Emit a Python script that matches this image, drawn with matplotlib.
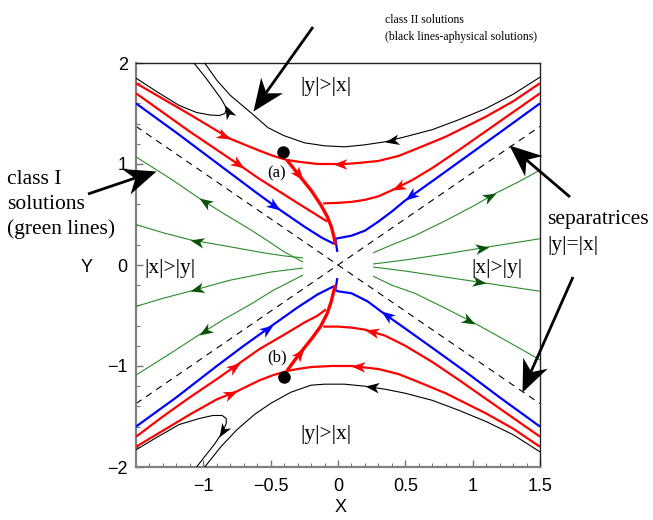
import numpy as np
import matplotlib
matplotlib.use('Agg')
import matplotlib.pyplot as plt
from matplotlib.path import Path
from matplotlib.markers import MarkerStyle
from matplotlib.transforms import Affine2D

# ---------------- data ----------------
x_ticks = [-1, -0.5, 0, 0.5, 1, 1.5]
x_tick_labels = ['\u22121', '\u22120.5', '0', '0.5', '1', '1.5']
y_ticks = [-2, -1, 0, 1, 2]
y_tick_labels = ['\u22122', '\u22121', '0', '1', '2']

sep_slope = 0.915
sep_x = [-1.5, 1.5]

# class II (black)
hookU_x = [-1.50, -1.35, -1.18, -1.05, -0.95, -0.88, -0.84, -0.83, -0.84, -0.87, -0.92, -0.98, -1.07]
hookU_y = [1.85, 1.72, 1.58, 1.51, 1.485, 1.48, 1.50, 1.54, 1.58, 1.65, 1.74, 1.85, 2.00]
hypU_x = [1.50, 1.30, 1.10, 0.90, 0.70, 0.50, 0.35, 0.20, 0.05, -0.10, -0.25, -0.40, -0.52, -0.64, -0.80, -0.90, -0.99]
hypU_y = [1.86, 1.69, 1.55, 1.44, 1.34, 1.27, 1.22, 1.19, 1.17, 1.18, 1.21, 1.28, 1.36, 1.50, 1.68, 1.83, 2.00]
hookL_x = [-1.50, -1.35, -1.18, -1.03, -0.93, -0.86, -0.83, -0.83, -0.85, -0.88, -0.92, -0.98, -1.05]
hookL_y = [-1.83, -1.71, -1.58, -1.52, -1.49, -1.49, -1.52, -1.57, -1.63, -1.70, -1.78, -1.88, -2.00]
hypL_x = [1.50, 1.30, 1.10, 0.90, 0.70, 0.50, 0.35, 0.20, 0.05, -0.10, -0.20, -0.35, -0.50, -0.62, -0.75, -0.87, -0.99]
hypL_y = [-1.85, -1.68, -1.55, -1.44, -1.34, -1.27, -1.23, -1.20, -1.18, -1.18, -1.19, -1.26, -1.37, -1.48, -1.63, -1.80, -2.00]

# red
rU1L_x = [-1.50, -1.30, -1.10, -0.90, -0.80, -0.70, -0.58, -0.48, -0.38]
rU1L_y = [1.80, 1.645, 1.49, 1.33, 1.25, 1.195, 1.13, 1.08, 1.04]
rU1R_x = [1.50, 1.30, 1.10, 0.95, 0.80, 0.60, 0.45, 0.30, 0.15, 0.05, -0.04, -0.15, -0.28, -0.38]
rU1R_y = [1.80, 1.62, 1.47, 1.37, 1.27, 1.16, 1.08, 1.03, 1.01, 1.00, 1.00, 1.00, 1.02, 1.04]
rU2L_x = [-1.50, -1.30, -1.10, -0.90, -0.70, -0.58, -0.45, -0.32, -0.20, -0.08]
rU2L_y = [1.70, 1.51, 1.32, 1.14, 0.96, 0.85, 0.74, 0.63, 0.53, 0.43]
rU2R_x = [1.50, 1.20, 0.90, 0.70, 0.55, 0.40, 0.30, 0.20, 0.10, 0.00, -0.11]
rU2R_y = [1.70, 1.42, 1.14, 0.96, 0.84, 0.74, 0.68, 0.645, 0.625, 0.615, 0.61]
trU_x = [-0.38, -0.32, -0.26, -0.20, -0.13, -0.08, -0.05, -0.03, -0.02]
trU_y = [1.04, 0.94, 0.84, 0.74, 0.60, 0.48, 0.38, 0.28, 0.20]

rL1L_x = [-1.50, -1.30, -1.10, -0.90, -0.73, -0.58, -0.40, -0.25, -0.15, -0.09]
rL1L_y = [-1.70, -1.50, -1.31, -1.13, -0.97, -0.83, -0.69, -0.57, -0.50, -0.44]
rL1R_x = [1.50, 1.20, 0.90, 0.70, 0.50, 0.35, 0.20, 0.10, 0.00, -0.11]
rL1R_y = [-1.70, -1.42, -1.14, -0.96, -0.80, -0.70, -0.64, -0.62, -0.61, -0.61]
rL2L_x = [-1.50, -1.30, -1.10, -0.90, -0.75, -0.58, -0.48, -0.38]
rL2L_y = [-1.80, -1.64, -1.48, -1.33, -1.25, -1.14, -1.09, -1.05]
rL2R_x = [1.50, 1.30, 1.10, 0.95, 0.80, 0.60, 0.45, 0.30, 0.10, -0.05, -0.20, -0.30, -0.38]
rL2R_y = [-1.80, -1.62, -1.47, -1.37, -1.27, -1.16, -1.08, -1.03, -1.00, -1.00, -1.01, -1.03, -1.05]
trL_x = [-0.38, -0.32, -0.25, -0.19, -0.13, -0.08, -0.05, -0.03, -0.02]
trL_y = [-1.05, -0.94, -0.82, -0.72, -0.61, -0.48, -0.36, -0.25, -0.20]

# blue
bUL_x = [-1.50, -1.20, -0.90, -0.60, -0.43, -0.25, -0.12, -0.03]
bUL_y = [1.60, 1.31, 1.01, 0.71, 0.545, 0.38, 0.27, 0.21]
bUR_x = [1.50, 1.20, 0.95, 0.70, 0.50, 0.40, 0.30, 0.20, 0.10, 0.00, -0.02]
bUR_y = [1.60, 1.31, 1.07, 0.83, 0.64, 0.53, 0.43, 0.34, 0.29, 0.265, 0.26]
bUS_x = [-0.02, -0.005]
bUS_y = [0.26, 0.13]
bLL_x = [-1.50, -1.20, -0.90, -0.70, -0.48, -0.30, -0.15, -0.03]
bLL_y = [-1.60, -1.31, -1.00, -0.80, -0.59, -0.42, -0.29, -0.21]
bLR_x = [1.50, 1.20, 0.95, 0.70, 0.50, 0.32, 0.22, 0.10, 0.00, -0.02]
bLR_y = [-1.60, -1.31, -1.06, -0.82, -0.63, -0.46, -0.36, -0.28, -0.26, -0.25]
bLS_x = [-0.02, -0.005]
bLS_y = [-0.25, -0.13]

# green (class I)
g1L_x = [-0.26, -0.40, -0.50, -0.65, -0.85, -1.03, -1.25, -1.50]
g1L_y = [0.03, 0.13, 0.22, 0.35, 0.51, 0.66, 0.86, 1.07]
g2L_x = [-0.26, -0.40, -0.55, -0.80, -1.10, -1.30, -1.50]
g2L_y = [0.07, 0.09, 0.12, 0.18, 0.25, 0.32, 0.40]
g3L_x = [-0.26, -0.50, -0.80, -1.10, -1.30, -1.50]
g3L_y = [-0.03, -0.07, -0.15, -0.26, -0.33, -0.41]
g4L_x = [-0.26, -0.48, -0.65, -0.85, -1.03, -1.25, -1.50]
g4L_y = [-0.10, -0.25, -0.39, -0.54, -0.69, -0.88, -1.09]
g1R_x = [0.26, 0.40, 0.57, 0.80, 1.00, 1.17, 1.35, 1.50]
g1R_y = [0.12, 0.20, 0.29, 0.44, 0.58, 0.71, 0.83, 0.94]
g2R_x = [0.26, 0.50, 0.80, 1.12, 1.50]
g2R_y = [0.01, 0.05, 0.11, 0.18, 0.26]
g3R_x = [0.26, 0.50, 0.80, 1.10, 1.50]
g3R_y = [-0.02, -0.06, -0.12, -0.18, -0.26]
g4R_x = [0.26, 0.40, 0.57, 0.80, 1.02, 1.25, 1.50]
g4R_y = [-0.11, -0.20, -0.28, -0.43, -0.58, -0.75, -0.94]

dots_x = [-0.41, -0.40]
dots_y = [1.12, -1.11]

# ---------------- styles ----------------
RED = '#ff0000'
BLUE = '#0000ff'
GREEN = '#2a8c2a'
DGREEN = '#0b520b'
BLACK = '#000000'
SERIF = ['Liberation Serif', 'DejaVu Serif']
SANS = ['Liberation Sans', 'DejaVu Sans']

# (x, y, color, linewidth, arrow indices, arrow color)
curves = [
    (hookU_x, hookU_y, BLACK, 0.8, [8], BLACK),
    (hypU_x, hypU_y, BLACK, 0.8, [6], BLACK),
    (hookL_x, hookL_y, BLACK, 0.8, [9], BLACK),
    (hypL_x, hypL_y, BLACK, 0.8, [7], BLACK),
    (g1L_x, g1L_y, GREEN, 0.8, [5], DGREEN),
    (g2L_x, g2L_y, GREEN, 0.8, [4], DGREEN),
    (g3L_x, g3L_y, GREEN, 0.8, [3], DGREEN),
    (g4L_x, g4L_y, GREEN, 0.8, [4], DGREEN),
    (g1R_x, g1R_y, GREEN, 0.8, [5], DGREEN),
    (g2R_x, g2R_y, GREEN, 0.8, [3], DGREEN),
    (g3R_x, g3R_y, GREEN, 0.8, [3], DGREEN),
    (g4R_x, g4R_y, GREEN, 0.8, [4], DGREEN),
    (bUL_x, bUL_y, BLUE, 1.6, [4], BLUE),
    (bUR_x, bUR_y, BLUE, 1.6, [4], BLUE),
    (bUS_x, bUS_y, BLUE, 1.6, [], BLUE),
    (bLL_x, bLL_y, BLUE, 1.6, [4], BLUE),
    (bLR_x, bLR_y, BLUE, 1.6, [5], BLUE),
    (bLS_x, bLS_y, BLUE, 1.6, [], BLUE),
    (rU1L_x, rU1L_y, RED, 1.6, [4], RED),
    (rU1R_x, rU1R_y, RED, 1.6, [10], RED),
    (rU2L_x, rU2L_y, RED, 1.6, [4], RED),
    (rU2R_x, rU2R_y, RED, 1.6, [5], RED),
    (rL1L_x, rL1L_y, RED, 1.6, [4], RED),
    (rL1R_x, rL1R_y, RED, 1.6, [6], RED),
    (rL2L_x, rL2L_y, RED, 1.6, [4], RED),
    (rL2R_x, rL2R_y, RED, 1.6, [8], RED),
    (trU_x, trU_y, RED, 2.4, [2], RED),
    (trL_x, trL_y, RED, 2.4, [2], RED),
]

STEALTH = Path([(0, 0), (-1, 0.38), (-0.72, 0), (-1, -0.38), (0, 0)],
               [Path.MOVETO, Path.LINETO, Path.LINETO, Path.LINETO, Path.CLOSEPOLY])
BIG = Path([(0, 0), (-1, 0.42), (-0.7, 0), (-1, -0.42), (0, 0)],
           [Path.MOVETO, Path.LINETO, Path.LINETO, Path.LINETO, Path.CLOSEPOLY])


def head(axx, x, y, ang, color, ms, shape=STEALTH, z=6):
    m = MarkerStyle(shape, transform=Affine2D().rotate_deg(ang))
    axx.plot([x], [y], linestyle='none', marker=m, markersize=ms, color=color,
             markeredgewidth=0, zorder=z, clip_on=False)


W, H = 653, 520
fig = plt.figure(figsize=(W / 100, H / 100), dpi=100)
L, R, T, B = 136, 540, 63, 467
ax = fig.add_axes([L / W, 1 - B / H, (R - L) / W, (B - T) / H])
ax.set_xlim(-1.5, 1.5)
ax.set_ylim(-2, 2)

# separatrices
sx = np.array(sep_x)
for s in (sep_slope, -sep_slope):
    ax.plot(sx, s * sx, color=BLACK, lw=0.8, dashes=(6, 5), zorder=2)

for cx, cy, col, lw, arrows, acol in curves:
    ax.plot(cx, cy, color=col, lw=lw, zorder=3, solid_capstyle='butt')
    for k in arrows:
        p0 = ax.transData.transform((cx[k - 1], cy[k - 1]))
        p1 = ax.transData.transform((cx[k + 1], cy[k + 1]))
        ang = np.degrees(np.arctan2(p1[1] - p0[1], p1[0] - p0[0]))
        head(ax, cx[k], cy[k], ang, acol, 20)

ax.plot(dots_x, dots_y, 'o', color=BLACK, markersize=8, zorder=7)

# axes styling
ax.set_xticks(x_ticks)
ax.set_xticklabels(x_tick_labels)
ax.set_yticks(y_ticks)
ax.set_yticklabels(y_tick_labels)
ax.set_xticks(np.arange(-1.5, 1.51, 0.1), minor=True)
ax.set_yticks(np.arange(-2, 2.01, 0.2), minor=True)
ax.tick_params(which='both', direction='in', colors='#777777', top=False, right=False)
ax.tick_params(which='major', length=5, width=1.0, labelsize=13, labelcolor='black')
ax.tick_params(axis='x', which='major', pad=8)
ax.tick_params(axis='y', which='major', pad=6)
ax.tick_params(which='minor', length=3, width=0.8)
for lab in ax.get_xticklabels() + ax.get_yticklabels():
    lab.set_fontfamily(SANS)
for sp in ('left', 'bottom'):
    ax.spines[sp].set_color('#808080')
    ax.spines[sp].set_linewidth(1.6)
for sp in ('top', 'right'):
    ax.spines[sp].set_color('#222222')
    ax.spines[sp].set_linewidth(1.0)

# overlay in pixel coordinates for annotations
ov = fig.add_axes([0, 0, 1, 1], zorder=10)
ov.set_xlim(0, W)
ov.set_ylim(H, 0)
ov.axis('off')
ov.patch.set_alpha(0)


def big_arrow(tail, tip):
    p0 = ov.transData.transform(tail)
    p1 = ov.transData.transform(tip)
    d = p1 - p0
    ang = np.degrees(np.arctan2(d[1], d[0]))
    n = np.hypot(*d)
    back = tip[0] - (tip[0] - tail[0]) * 18 / n, tip[1] - (tip[1] - tail[1]) * 18 / n
    ov.plot([tail[0], back[0]], [tail[1], back[1]], color=BLACK, lw=2.0, solid_capstyle='butt')
    head(ov, tip[0], tip[1], ang, BLACK, 46, shape=BIG, z=12)


big_arrow((313, 27), (253, 111))
big_arrow((88, 194), (156, 171))
big_arrow((570, 197), (509, 145))
big_arrow((573, 277), (522, 392))

# texts
fs = 15.5
ov.text(326, 87, '|y|>|x|', fontsize=fs, family=SERIF, ha='center', va='center')
ov.text(326, 435, '|y|>|x|', fontsize=fs, family=SERIF, ha='center', va='center')
ov.text(170, 269, '|x|>|y|', fontsize=fs, family=SERIF, ha='center', va='center')
ov.text(497, 269, '|x|>|y|', fontsize=fs, family=SERIF, ha='center', va='center')
ov.text(277, 173, '(a)', fontsize=12, family=SERIF, ha='center', va='center')
ov.text(277, 357, '(b)', fontsize=12, family=SERIF, ha='center', va='center')

ov.text(7, 184, 'class I', fontsize=fs, family=SERIF, ha='left', va='baseline')
ov.text(7, 209, 'solutions', fontsize=fs, family=SERIF, ha='left', va='baseline')
ov.text(7, 234, '(green lines)', fontsize=fs, family=SERIF, ha='left', va='baseline')

ov.text(547, 224, 'separatrices', fontsize=fs, family=SERIF, ha='left', va='baseline')
ov.text(547, 250, '|y|=|x|', fontsize=fs, family=SERIF, ha='left', va='baseline')

ov.text(385, 23, 'class II solutions', fontsize=8.5, family=SERIF, ha='left', va='baseline')
ov.text(385, 40, '(black lines-aphysical solutions)', fontsize=8.5, family=SERIF, ha='left', va='baseline')

ov.text(341, 508, 'X', fontsize=13, family=SANS, ha='center', va='center')
ov.text(87, 268, 'Y', fontsize=13, family=SANS, ha='center', va='center')

fig.savefig('out.png', dpi=100)
